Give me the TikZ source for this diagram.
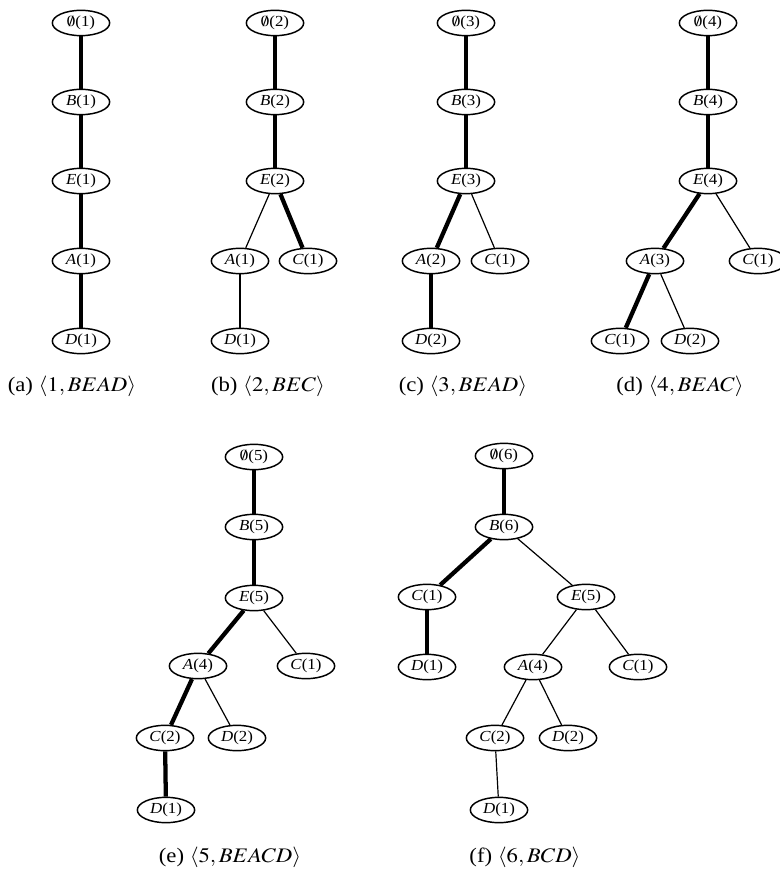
\documentclass[tikz,border=0pt]{standalone}
\usepackage{mathptmx}
\usepackage{fontspec}
\setmainfont{Liberation Serif}
\usepackage{graphicx}
\usetikzlibrary{shapes.geometric}
\newcommand\hsN[1]{\scalebox{1.1}[1]{#1}}
\newcommand\hsC[1]{\scalebox{1.1}[1]{#1}}
\tikzset{
  nd/.style={ellipse, draw, line width=1.1pt, minimum width=43pt, minimum height=19pt, inner sep=0pt, font=\fontsize{11.5}{13}\selectfont},
  captxt/.style={inner sep=0pt, font=\fontsize{15.5}{18}\selectfont},
  tk/.style={line width=3.2pt},
  tn/.style={line width=0.9pt}
}
\begin{document}
\begin{tikzpicture}[x=0.75pt,y=-0.75pt]
\useasboundingbox (0,0) rectangle (780,873);
% (a)
\node[nd] (a0) at (81,23) {\hsN{$\emptyset$(1)}};
\node[nd] (aB) at (81,102) {\hsN{\textit{B}(1)}};
\node[nd] (aE) at (81,181) {\hsN{\textit{E}(1)}};
\node[nd] (aA) at (81,261) {\hsN{\textit{A}(1)}};
\node[nd] (aD) at (81,341) {\hsN{\textit{D}(1)}};
\draw[tk] (a0)--(aB); \draw[tk] (aB)--(aE); \draw[tk] (aE)--(aA); \draw[tk] (aA)--(aD);
\node[captxt] (ca) at (72,386) {\hsC{(a) $\langle 1, BEAD\rangle$}};
% (b)
\node[nd] (b0) at (275,23) {\hsN{$\emptyset$(2)}};
\node[nd] (bB) at (275,102) {\hsN{\textit{B}(2)}};
\node[nd] (bE) at (275,181) {\hsN{\textit{E}(2)}};
\node[nd] (bA) at (240,261) {\hsN{\textit{A}(1)}};
\node[nd] (bC) at (308,261) {\hsN{\textit{C}(1)}};
\node[nd] (bD) at (240,341) {\hsN{\textit{D}(1)}};
\draw[tk] (b0)--(bB); \draw[tk] (bB)--(bE); \draw[tk] (bE)--(bC);
\draw[tn] (bE)--(bA); \draw[tn] (bA)--(bD);
\node[captxt] (cb) at (268,386) {\hsC{(b) $\langle 2, BEC\rangle$}};
% (c)
\node[nd] (c0) at (466,23) {\hsN{$\emptyset$(3)}};
\node[nd] (cB) at (466,102) {\hsN{\textit{B}(3)}};
\node[nd] (cE) at (466,181) {\hsN{\textit{E}(3)}};
\node[nd] (cA) at (431,261) {\hsN{\textit{A}(2)}};
\node[nd] (cC) at (500,261) {\hsN{\textit{C}(1)}};
\node[nd] (cD) at (431,341) {\hsN{\textit{D}(2)}};
\draw[tk] (c0)--(cB); \draw[tk] (cB)--(cE); \draw[tk] (cE)--(cA); \draw[tk] (cA)--(cD);
\draw[tn] (cE)--(cC);
\node[captxt] (cc) at (463,386) {\hsC{(c) $\langle 3, BEAD\rangle$}};
% (d)
\node[nd] (d0) at (708,23) {\hsN{$\emptyset$(4)}};
\node[nd] (dB) at (708,102) {\hsN{\textit{B}(4)}};
\node[nd] (dE) at (708,181) {\hsN{\textit{E}(4)}};
\node[nd] (dA) at (655,261) {\hsN{\textit{A}(3)}};
\node[nd] (dC) at (758,261) {\hsN{\textit{C}(1)}};
\node[nd] (dAC) at (620,341) {\hsN{\textit{C}(1)}};
\node[nd] (dAD) at (690,341) {\hsN{\textit{D}(2)}};
\draw[tk] (d0)--(dB); \draw[tk] (dB)--(dE); \draw[tk] (dE)--(dA); \draw[tk] (dA)--(dAC);
\draw[tn] (dE)--(dC); \draw[tn] (dA)--(dAD);
\node[captxt] (cd) at (680,386) {\hsC{(d) $\langle 4, BEAC\rangle$}};
% (e)
\node[nd] (e0) at (254,457) {\hsN{$\emptyset$(5)}};
\node[nd] (eB) at (254,527) {\hsN{\textit{B}(5)}};
\node[nd] (eE) at (254,598) {\hsN{\textit{E}(5)}};
\node[nd] (eA) at (198,666) {\hsN{\textit{A}(4)}};
\node[nd] (eC) at (306,666) {\hsN{\textit{C}(1)}};
\node[nd] (eAC) at (165,738) {\hsN{\textit{C}(2)}};
\node[nd] (eAD) at (237,738) {\hsN{\textit{D}(2)}};
\node[nd] (eD) at (166,810) {\hsN{\textit{D}(1)}};
\draw[tk] (e0)--(eB); \draw[tk] (eB)--(eE); \draw[tk] (eE)--(eA); \draw[tk] (eA)--(eAC); \draw[tk] (eAC)--(eD);
\draw[tn] (eE)--(eC); \draw[tn] (eA)--(eAD);
\node[captxt] (ce) at (230,857) {\hsC{(e) $\langle 5, BEACD\rangle$}};
% (f)
\node[nd] (f0) at (504,456) {\hsN{$\emptyset$(6)}};
\node[nd] (fB) at (504,527) {\hsN{\textit{B}(6)}};
\node[nd] (fC) at (427,597) {\hsN{\textit{C}(1)}};
\node[nd] (fE) at (586,597) {\hsN{\textit{E}(5)}};
\node[nd] (fCD) at (427,667) {\hsN{\textit{D}(1)}};
\node[nd] (fA) at (533,667) {\hsN{\textit{A}(4)}};
\node[nd] (fEC) at (638,667) {\hsN{\textit{C}(1)}};
\node[nd] (fAC) at (495,738) {\hsN{\textit{C}(2)}};
\node[nd] (fAD) at (568,738) {\hsN{\textit{D}(2)}};
\node[nd] (fD) at (499,810) {\hsN{\textit{D}(1)}};
\draw[tk] (f0)--(fB); \draw[tk] (fB)--(fC); \draw[tk] (fC)--(fCD);
\draw[tn] (fB)--(fE); \draw[tn] (fE)--(fA); \draw[tn] (fE)--(fEC);
\draw[tn] (fA)--(fAC); \draw[tn] (fA)--(fAD); \draw[tn] (fAC)--(fD);
\node[captxt] (cf) at (525,857) {\hsC{(f) $\langle 6, BCD\rangle$}};
\end{tikzpicture}
\end{document}
